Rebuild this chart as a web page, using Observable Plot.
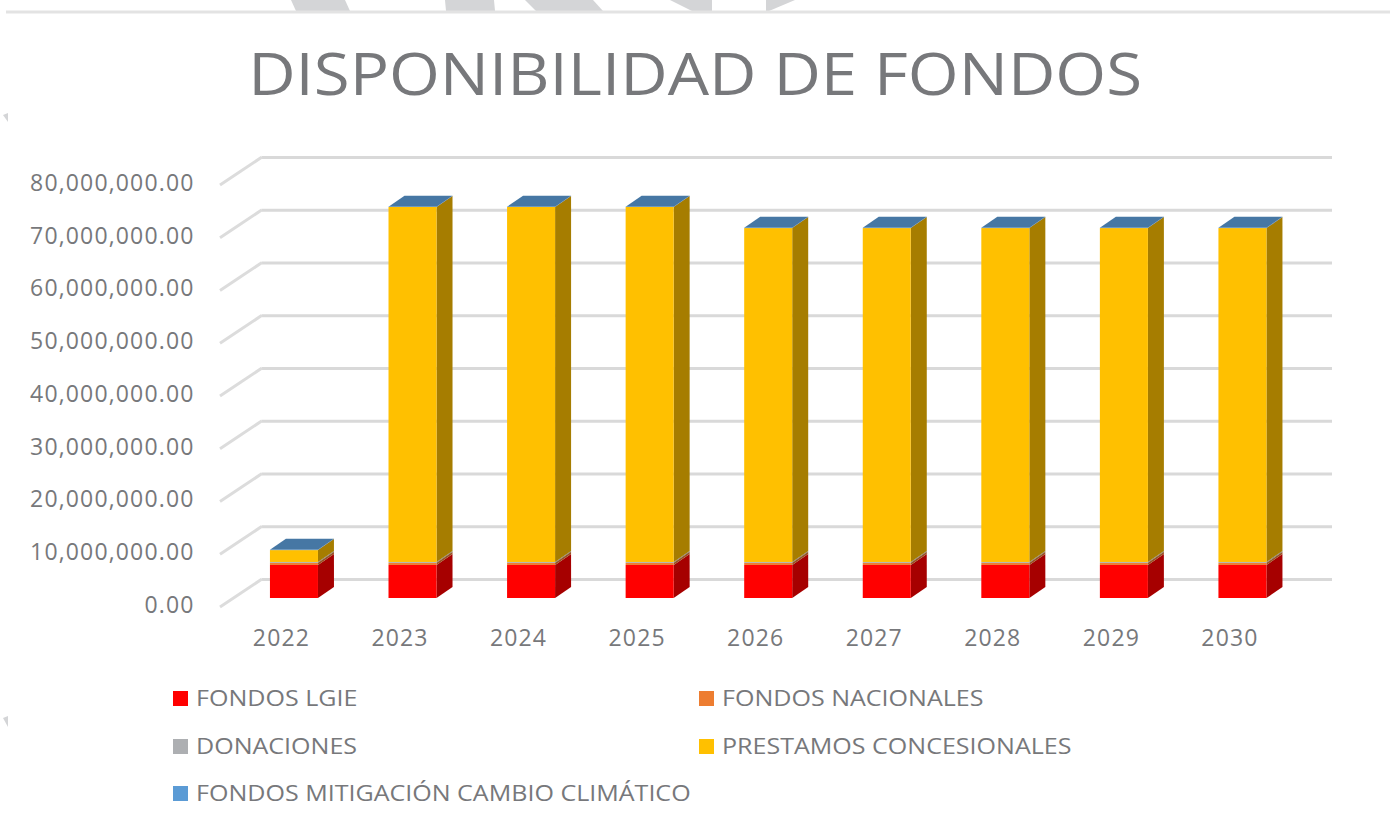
<!DOCTYPE html>
<html><head><meta charset="utf-8">
<script src="https://cdn.jsdelivr.net/npm/d3@7"></script>
<script src="https://cdn.jsdelivr.net/npm/@observablehq/plot@0.6"></script>
<style>
html,body{margin:0;padding:0;background:#fff;width:1390px;height:818px;overflow:hidden}
body{position:relative;font-family:"Open Sans",sans-serif;color:#77787b}
#head{position:relative;height:130px;width:1390px}
#head svg{position:absolute;left:0;top:0;overflow:visible}
#title{position:absolute;left:0;width:1390px;top:28px;text-align:center;font-size:59px;font-weight:400;line-height:88px;color:#77787b;transform:scaleX(1.108);transform-origin:694px 0}
#chart{height:540px;width:1390px}
#chart svg{display:block}
#legend{position:absolute;left:0;top:0;width:1390px}
.item{position:absolute;display:flex;align-items:center;font-size:22.5px;line-height:24px;white-space:nowrap}
.item .lbl{display:inline-block;transform:scaleX(1.113);transform-origin:0 0}
.sw{width:15px;height:15px;margin-right:8px;flex:none}
</style></head>
<body>
<div id="head">
<svg width="1390" height="130">
<g fill="#d4d5d7">
<polygon points="291,0 345,0 350,11 296,11"/>
<polygon points="445,0 494,0 495,11 446,11"/>
<polygon points="525,0 593,0 603,11 536,11"/>
<polygon points="670,0 712,0 712,11 692,11"/>
<polygon points="766,0 795,0 769,11 766,11"/>
<polygon points="8,113 8,122 3,115"/>
<polygon points="8,716 8,727 3,718"/>
</g>
<rect x="6" y="10.5" width="1384" height="3" fill="#e3e3e3"/>
</svg>
<div id="title">DISPONIBILIDAD DE FONDOS</div>
</div>
<div id="chart"></div>
<div id="legend"></div>
<script>
const years = ["2022","2023","2024","2025","2026","2027","2028","2029","2030"];
const seriesNames = ["FONDOS LGIE","FONDOS NACIONALES","DONACIONES","PRESTAMOS CONCESIONALES","FONDOS MITIGACIÓN CAMBIO CLIMÁTICO"];
const seriesColors = ["#ff0000","#ed7d31","#adafb2","#ffc000","#5b9bd5"];
const fondosLgie = [6260000,6260000,6260000,6260000,6260000,6260000,6260000,6260000,6260000];
const fondosNacionales = [400000,400000,400000,400000,400000,400000,400000,400000,400000];
const donaciones = [170000,170000,170000,170000,170000,170000,170000,170000,170000];
const prestamos = [2250000,67300000,67300000,67300000,63300000,63300000,63300000,63300000,63300000];
const mitigacion = [50000,50000,50000,50000,50000,50000,50000,50000,50000];
const seriesValues = [fondosLgie,fondosNacionales,donaciones,prestamos,mitigacion];
const yTicks = [0,10e6,20e6,30e6,40e6,50e6,60e6,70e6,80e6];

const rows = seriesNames.flatMap((s,si)=>years.map((yr,i)=>({year:yr,series:s,value:seriesValues[si][i],color:seriesColors[si],si})));

const depthX=16, depthY=11, wallRise=19, leftDx=42, leftDrop=9;
const ns="http://www.w3.org/2000/svg";

const textColor="#77787b";
const plot = Plot.plot({
  width:1390,height:540,
  marginLeft:262,marginRight:58,marginTop:0,marginBottom:72,
  style:{background:"transparent",fontFamily:'"Open Sans",sans-serif',color:textColor,overflow:"visible",letterSpacing:"1.15px"},
  x:{type:"band",domain:years,range:[199.4,1337],padding:0.595,round:false,label:null},
  y:{domain:[0,80e6],range:[468,46],label:null},
  marks:[
    Plot.ruleY(yTicks,{y:d=>d,dy:-wallRise,stroke:"#d9d9d9",strokeWidth:3,strokeOpacity:1}),
    Plot.ruleY(yTicks,{y:d=>d,stroke:"none",render(I,S,V,D){
      const g=document.createElementNS(ns,"g");
      for(const i of I){
        const l=document.createElementNS(ns,"line");
        const yy=S.y(yTicks[i]);
        l.setAttribute("x1",D.marginLeft);l.setAttribute("y1",yy-wallRise);
        l.setAttribute("x2",D.marginLeft-leftDx);l.setAttribute("y2",yy+leftDrop);
        l.setAttribute("stroke","#dcdcdc");l.setAttribute("stroke-width",3);
        g.appendChild(l);
      }
      return g;
    }}),
    Plot.axisY({ticks:yTicks,anchor:"left",tickSize:0,tickPadding:68,dy:7,fontSize:23,tickFormat:d3.format(",.2f"),label:null,fill:textColor}),
    Plot.axisX({anchor:"bottom",tickSize:0,tickPadding:31,dx:-13,fontSize:23,label:null,fill:textColor}),
    Plot.barY(rows,{x:"year",y:"value",z:"si",fill:"color",render(I,S,V,D,C,next){
      const front=next(I,S,V,D,C);
      const bw=S.x.bandwidth();
      const g=document.createElementNS(ns,"g");
      const poly=(pts,fill)=>{const p=document.createElementNS(ns,"polygon");
        p.setAttribute("points",pts.map(a=>a.join(",")).join(" "));p.setAttribute("fill",fill);g.appendChild(p);};
      const shade=(c,k)=>{const r=d3.rgb(c);return d3.rgb(r.r*k,r.g*k,r.b*k).formatHex();};
      for(const i of I){
        const x0=V.x[i],x1=x0+bw,a=Math.min(V.y1[i],V.y2[i]),b=Math.max(V.y1[i],V.y2[i]);
        poly([[x1,b],[x1+depthX,b-depthY],[x1+depthX,a-depthY],[x1,a]],shade(rows[i].color,0.65));
        if(rows[i].si===seriesNames.length-1)
          poly([[x0,a],[x0+depthX,a-depthY],[x1+depthX,a-depthY],[x1,a]],shade(rows[i].color,0.77));
      }
      const out=document.createElementNS(ns,"g");
      out.appendChild(g);out.appendChild(front);
      return out;
    }})
  ]
});
document.getElementById("chart").appendChild(plot);

const legendPos=[[173,698],[699,698],[173,746],[699,746],[173,793]];
const lg=document.getElementById("legend");
seriesNames.forEach((s,i)=>{
  const d=document.createElement("div");d.className="item";
  d.style.left=legendPos[i][0]+"px";d.style.top=(legendPos[i][1]-12)+"px";
  const sw=document.createElement("span");sw.className="sw";sw.style.background=seriesColors[i];
  const t=document.createElement("span");t.className="lbl";t.textContent=s;
  d.append(sw,t);lg.appendChild(d);
});
</script>
</body></html>
